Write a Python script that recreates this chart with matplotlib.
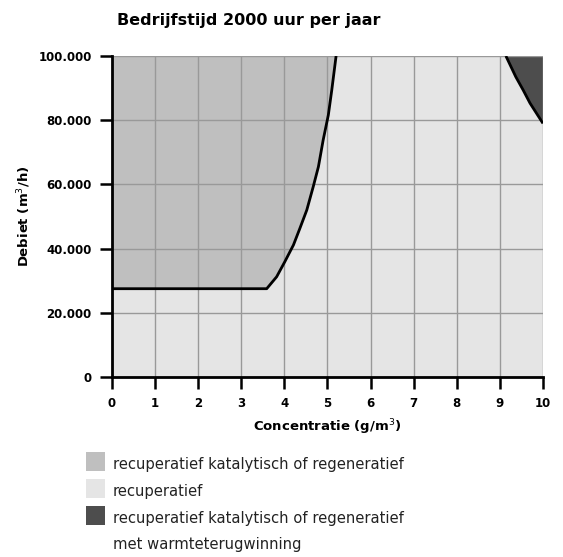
import matplotlib
matplotlib.use("Agg")
import matplotlib.pyplot as plt
from matplotlib.patches import Rectangle

plt.rcParams['font.family'] = 'DejaVu Sans'

# Boundary between "katalytisch/regeneratief" and "recuperatief"
kat_x = [0, 3.59, 3.82, 4.01, 4.21, 4.36, 4.52, 4.67, 4.79, 4.90, 5.02, 5.10, 5.20]
kat_y = [27500, 27500, 31200, 35900, 41100, 46300, 52000, 59300, 65500, 73800, 81600, 89400, 100000]

# Boundary of the "met warmteterugwinning" corner
wtw_x = [9.14, 9.37, 9.54, 9.70, 10.0]
wtw_y = [100000, 93500, 89400, 85300, 79000]

x_ticks = list(range(0, 11))
y_ticks = [0, 20000, 40000, 60000, 80000, 100000]
y_ticklabels = ['0', '20.000', '40.000', '60.000', '80.000', '100.000']

legend_colors = ['#bfbfbf', '#e5e5e5', '#4d4d4d']
legend_labels = ['recuperatief katalytisch of regeneratief',
                 'recuperatief',
                 'recuperatief katalytisch of regeneratief']
legend_extra = 'met warmteterugwinning'

fig = plt.figure(figsize=(5.63, 5.57), dpi=100)
ax = fig.add_axes([0.1989, 0.3232, 0.7655, 0.5763])
ax.set_facecolor('#e5e5e5')

# regions
ax.fill([0] + kat_x, [100000] + kat_y, color='#bfbfbf', lw=0, zorder=1)
ax.fill(wtw_x + [10], wtw_y + [100000], color='#4d4d4d', lw=0, zorder=1)

ax.grid(True, color='#999999', lw=1, zorder=2)
ax.set_axisbelow(False)
for gl in ax.get_xgridlines() + ax.get_ygridlines():
    gl.set_zorder(2)

ax.plot(kat_x, kat_y, color='black', lw=2, zorder=4, solid_capstyle='butt')
ax.plot(wtw_x, wtw_y, color='black', lw=2, zorder=4, solid_capstyle='butt')

ax.set_xlim(0, 10)
ax.set_ylim(0, 100000)
ax.set_xticks(x_ticks)
ax.set_yticks(y_ticks)
ax.set_yticklabels(y_ticklabels)
ax.tick_params(direction='out', length=8.5, width=1.8, color='black',
               labelsize=8.5, pad=6)
for lbl in ax.get_xticklabels() + ax.get_yticklabels():
    lbl.set_fontweight('bold')

for side in ['top', 'right']:
    ax.spines[side].set_visible(False)
for side in ['left', 'bottom']:
    ax.spines[side].set_linewidth(2)
    ax.spines[side].set_zorder(5)

ax.set_xlabel('Concentratie (g/m$^3$)', fontsize=9.5, fontweight='bold', labelpad=5)
ax.set_ylabel('Debiet (m$^3$/h)', fontsize=9.5, fontweight='bold', labelpad=4)

fig.text(117 / 563, 1 - 21 / 557, 'Bedrijfstijd 2000 uur per jaar',
         fontsize=11.5, fontweight='bold', ha='left', va='center')

# legend
row_y = [461.5, 488.5, 515]
for c, lab, yy in zip(legend_colors, legend_labels, row_y):
    fig.patches.append(Rectangle((86 / 563, 1 - (yy + 9.5) / 557), 19 / 563, 19 / 557,
                                 transform=fig.transFigure, color=c, lw=0))
    fig.text(113 / 563, 1 - (yy + 3) / 557, lab, fontsize=10.6, ha='left', va='center',
             color='#222222')
fig.text(113 / 563, 1 - 545 / 557, legend_extra, fontsize=10.6, ha='left', va='center',
         color='#222222')

fig.savefig('out.png', dpi=100)
